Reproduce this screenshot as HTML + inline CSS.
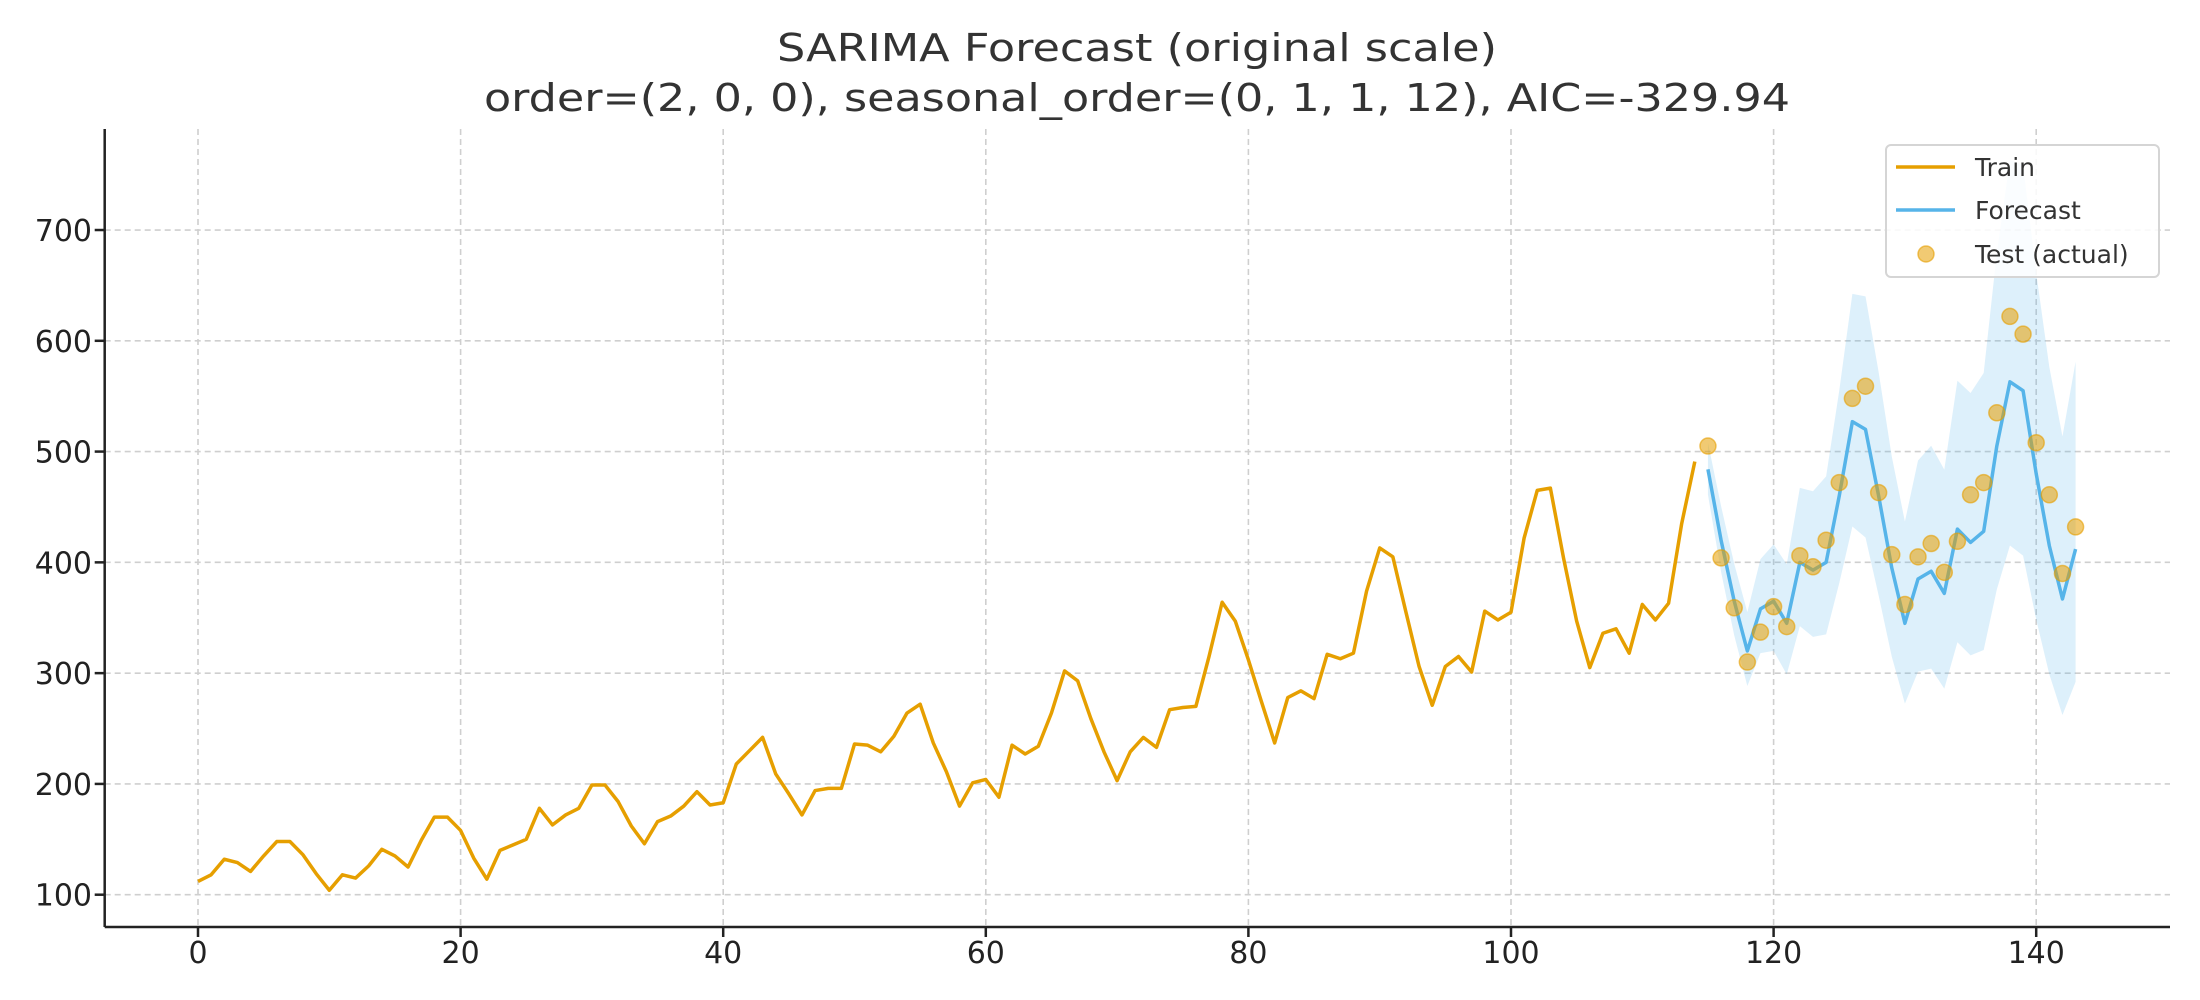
<!DOCTYPE html>
<html><head><meta charset="utf-8"><style>
html,body{margin:0;padding:0;background:#fff;}
svg{display:block;font-family:"DejaVu Sans","Liberation Sans",sans-serif;}
</style></head><body>
<svg id="s" width="2200" height="1000" viewBox="0 0 2200 1000" xmlns="http://www.w3.org/2000/svg"></svg>
<script>
const data=[112,118,132,129,121,135,148,148,136,119,104,118,115,126,141,135,125,149,170,170,158,133,114,140,145,150,178,163,172,178,199,199,184,162,146,166,171,180,193,181,183,218,230,242,209,191,172,194,196,196,236,235,229,243,264,272,237,211,180,201,204,188,235,227,234,264,302,293,259,229,203,229,242,233,267,269,270,315,364,347,312,274,237,278,284,277,317,313,318,374,413,405,355,306,271,306,315,301,356,348,355,422,465,467,404,347,305,336,340,318,362,348,363,435,491,505,404,359,310,337,360,342,406,396,420,472,548,559,463,407,362,405,417,391,419,461,472,535,622,606,508,461,390,432];
const fc=[484,420,365,320,358,365,345,400,393,400,460,527,520,460,395,345,385,392,372,430,418,428,505,563,555,480,415,367,412];
const X=i=>198+13.13*i, Y=v=>894.7-(v-100)*1.1078;
const L=104.7,R=2170,T=129,B=927;
let s='<defs><clipPath id="c"><rect x="'+L+'" y="'+T+'" width="'+(R-L)+'" height="'+(B-T)+'"/></clipPath></defs>';
for(let t=0;t<=140;t+=20)s+=`<line x1="${X(t)}" y1="${T}" x2="${X(t)}" y2="${B}" stroke="#cfcfcf" stroke-width="1.6" stroke-dasharray="6,4"/>`;
for(let v=100;v<=700;v+=100)s+=`<line x1="${L}" y1="${Y(v)}" x2="${R}" y2="${Y(v)}" stroke="#cfcfcf" stroke-width="1.6" stroke-dasharray="6,4"/>`;
let up=[],lo=[];
fc.forEach((f,j)=>{const h=j+1,k=0.045*Math.sqrt(h)+0.0035*h;up.push([X(115+j),Y(f*Math.exp(k))]);lo.push([X(115+j),Y(f*Math.exp(-k))]);});
const band=up.concat(lo.reverse()).map(p=>p.join(',')).join(' ');
s+=`<g clip-path="url(#c)"><polygon points="${band}" fill="#56B4E9" fill-opacity="0.2"/>`;
s+=`<polyline points="${data.slice(0,115).map((v,i)=>X(i)+','+Y(v)).join(' ')}" fill="none" stroke="#E69F00" stroke-width="3.5" stroke-linejoin="round"/>`;
s+=`<polyline points="${fc.map((v,j)=>X(115+j)+','+Y(v)).join(' ')}" fill="none" stroke="#56B4E9" stroke-width="3.5" stroke-linejoin="round"/>`;
for(let i=115;i<144;i++)s+=`<circle cx="${X(i)}" cy="${Y(data[i])}" r="8" fill="#E69F00" fill-opacity="0.55" stroke="#E69F00" stroke-opacity="0.6" stroke-width="1.5"/>`;
s+='</g>';
s+=`<line x1="${L}" y1="${T}" x2="${L}" y2="${B}" stroke="#222" stroke-width="2.5"/><line x1="${L}" y1="${B}" x2="${R}" y2="${B}" stroke="#222" stroke-width="2.5"/>`;
for(let t=0;t<=140;t+=20){s+=`<line x1="${X(t)}" y1="${B}" x2="${X(t)}" y2="${B+10}" stroke="#222" stroke-width="2.5"/><text x="${X(t)}" y="963" font-size="30" text-anchor="middle" fill="#222">${t}</text>`;}
for(let v=100;v<=700;v+=100){s+=`<line x1="${L-10}" y1="${Y(v)}" x2="${L}" y2="${Y(v)}" stroke="#222" stroke-width="2.5"/><text x="92" y="${Y(v)+11}" font-size="30" text-anchor="end" fill="#222">${v}</text>`;}
s+=`<text x="1137" y="61" font-size="38" text-anchor="middle" fill="#333" textLength="720" lengthAdjust="spacingAndGlyphs">SARIMA Forecast (original scale)</text>`;
s+=`<text x="1137" y="111" font-size="38" text-anchor="middle" fill="#333" textLength="1306" lengthAdjust="spacingAndGlyphs">order=(2, 0, 0), seasonal_order=(0, 1, 1, 12), AIC=-329.94</text>`;
s+=`<rect x="1886" y="145" width="273" height="132" rx="5" fill="#fff" fill-opacity="0.85" stroke="#d5d5d5" stroke-width="2"/>`;
s+=`<line x1="1896" y1="167" x2="1955" y2="167" stroke="#E69F00" stroke-width="3.5"/><text x="1975" y="176" font-size="25" fill="#333">Train</text>`;
s+=`<line x1="1896" y1="210" x2="1955" y2="210" stroke="#56B4E9" stroke-width="3.5"/><text x="1975" y="219" font-size="25" fill="#333">Forecast</text>`;
s+=`<circle cx="1926" cy="254" r="8" fill="#E69F00" fill-opacity="0.55" stroke="#E69F00" stroke-opacity="0.6" stroke-width="1.5"/><text x="1975" y="263" font-size="25" fill="#333">Test (actual)</text>`;
document.getElementById('s').innerHTML=s;
</script>
</body></html>
